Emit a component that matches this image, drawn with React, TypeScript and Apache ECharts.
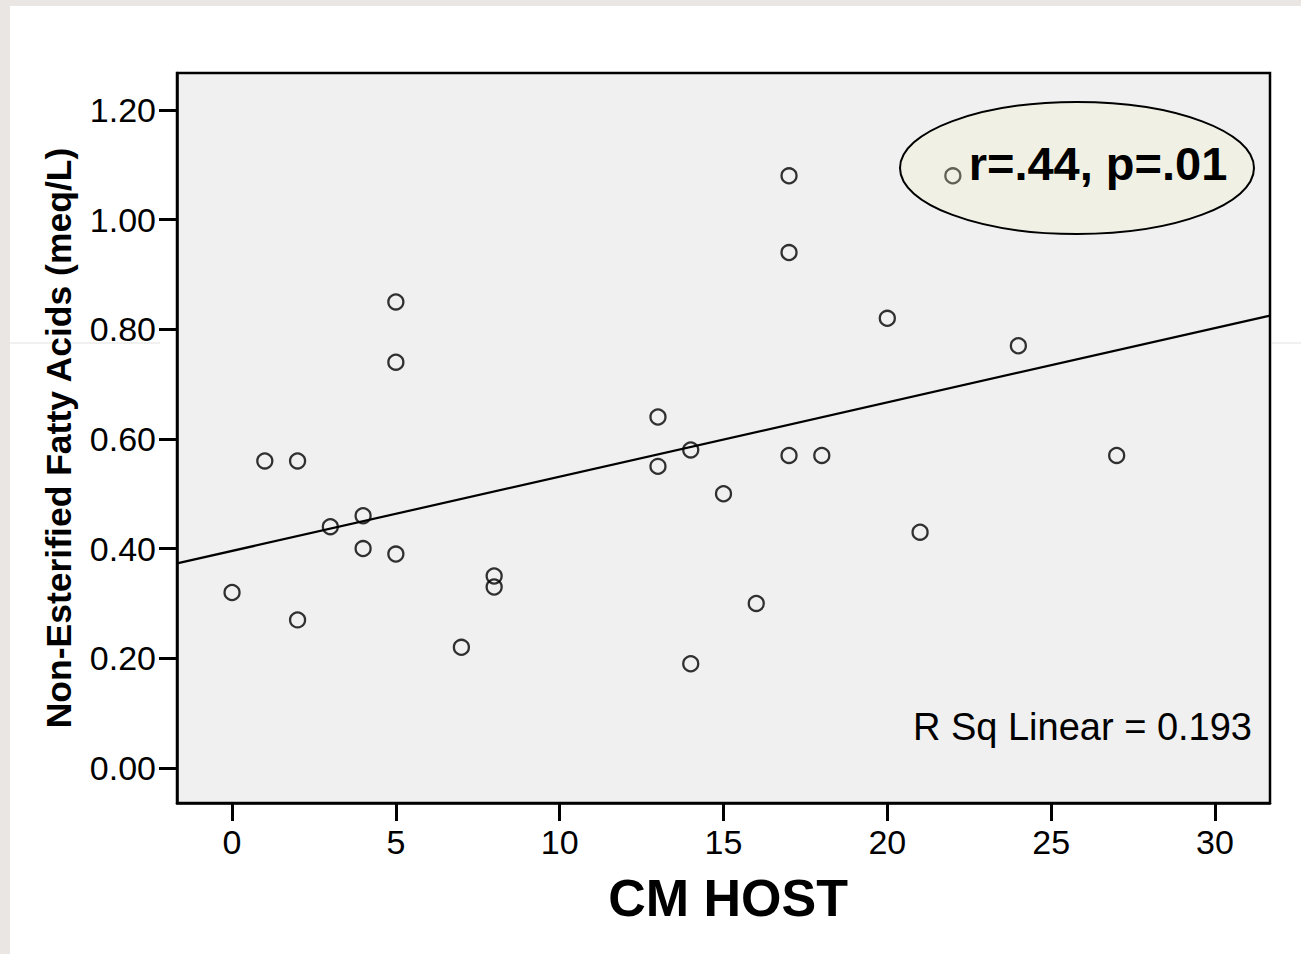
import React, { useEffect, useRef } from "react";
import * as echarts from "echarts";

// CM HOST score (x) and Non-Esterified Fatty Acids, meq/L (y)
const cmHost = [0, 1, 2, 2, 3, 4, 4, 5, 5, 5, 7, 8, 8, 13, 13, 14, 14, 15, 16, 17, 17, 17, 18, 20, 21, 22, 24, 27];
const nefa = [0.32, 0.56, 0.56, 0.27, 0.44, 0.46, 0.4, 0.85, 0.74, 0.39, 0.22, 0.35, 0.33, 0.64, 0.55, 0.58, 0.19, 0.5, 0.3, 1.08, 0.94, 0.57, 0.57, 0.82, 0.43, 1.08, 0.77, 0.57];

// Linear fit line endpoints
const fitX = [-1.68, 31.68];
const fitY = [0.373, 0.825];

const xTicks = [0, 5, 10, 15, 20, 25, 30];
const yTicks = [0, 0.2, 0.4, 0.6, 0.8, 1.0, 1.2];

const xName = "CM HOST";
const yName = "Non-Esterified Fatty Acids (meq/L)";
const statText = "r=.44, p=.01";
const rsqText = "R Sq Linear = 0.193";

const FONT = '"Liberation Sans", Arial, sans-serif';

export default function App() {
  const ref = useRef<HTMLDivElement>(null);

  useEffect(() => {
    if (!ref.current) return;
    const chart = echarts.init(ref.current, null, { renderer: "svg" });
    const option: any = {
      animation: false,
      backgroundColor: "#ffffff",
      textStyle: { fontFamily: FONT },
      grid: {
        show: true,
        left: 167,
        top: 67,
        right: 31,
        bottom: 151,
        backgroundColor: "#f0f0f0",
        borderColor: "#000000",
        borderWidth: 2.5,
      },
      xAxis: {
        type: "value",
        min: -1.68,
        max: 31.68,
        splitLine: { show: false },
        axisLine: { show: true, onZero: false, lineStyle: { color: "#000", width: 2.5 } },
        axisTick: {
          show: true,
          customValues: xTicks,
          length: 18,
          lineStyle: { color: "#000", width: 3 },
        },
        axisLabel: {
          customValues: xTicks,
          margin: 22,
          fontSize: 34,
          color: "#000",
          fontFamily: FONT,
        },
        name: xName,
        nameLocation: "middle",
        nameGap: 94.5,
        nameTextStyle: {
          fontSize: 52,
          fontWeight: "bold",
          color: "#000",
          fontFamily: FONT,
          verticalAlign: "middle",
          padding: [0, 0, 0, 9],
        },
      },
      yAxis: {
        type: "value",
        min: -0.064,
        max: 1.2675,
        splitLine: { show: false },
        axisLine: { show: true, onZero: false, lineStyle: { color: "#000", width: 2.5 } },
        axisTick: {
          show: true,
          customValues: yTicks,
          length: 18,
          lineStyle: { color: "#000", width: 3 },
        },
        axisLabel: {
          customValues: yTicks,
          margin: 21,
          fontSize: 34,
          color: "#000",
          fontFamily: FONT,
          formatter: (v: number) => v.toFixed(2),
        },
        name: yName,
        nameLocation: "middle",
        nameGap: 118,
        nameTextStyle: {
          fontSize: 35.5,
          fontWeight: "bold",
          color: "#000",
          fontFamily: FONT,
          verticalAlign: "middle",
        },
      },
      series: [
        {
          type: "line",
          data: fitX.map((x, i) => [x, fitY[i]]),
          showSymbol: false,
          symbol: "none",
          lineStyle: { color: "#000", width: 2.2 },
          z: 2,
          silent: true,
        },
        {
          type: "scatter",
          data: cmHost.map((x, i) => [x, nefa[i]]),
          symbol: "circle",
          symbolSize: 15,
          itemStyle: { color: "rgba(0,0,0,0)", borderColor: "#000", borderWidth: 2.3 },
          z: 3,
        },
      ],
      graphic: [
        {
          type: "line",
          shape: { x1: 0, y1: 337, x2: 150, y2: 337 },
          style: { stroke: "#e2e2e2", lineWidth: 1 },
          z: 0,
        },
        {
          type: "line",
          shape: { x1: 1262, y1: 337, x2: 1291, y2: 337 },
          style: { stroke: "#e2e2e2", lineWidth: 1 },
          z: 0,
        },
        {
          type: "ellipse",
          shape: { cx: 1067, cy: 162, rx: 177, ry: 66 },
          style: { fill: "rgba(240,240,192,0.25)", stroke: "#000", lineWidth: 2 },
          z: 100,
        },
        {
          type: "text",
          x: 1088,
          y: 157,
          style: {
            text: statText,
            fill: "#000",
            fontSize: 47,
            fontWeight: "bold",
            fontFamily: FONT,
            textAlign: "center",
            textVerticalAlign: "middle",
          },
          z: 101,
        },
        {
          type: "text",
          x: 1242,
          y: 720.5,
          style: {
            text: rsqText,
            fill: "#000",
            fontSize: 38,
            fontFamily: FONT,
            textAlign: "right",
            textVerticalAlign: "middle",
          },
          z: 101,
        },
      ],
    };
    chart.setOption(option);
    return () => chart.dispose();
  }, []);

  return (
    <div
      style={{
        position: "fixed",
        left: 0,
        top: 0,
        width: 1301,
        height: 954,
        background: "#e9e6e3",
        overflow: "hidden",
      }}
    >
      <div
        ref={ref}
        style={{
          position: "absolute",
          left: 10,
          top: 6,
          width: 1291,
          height: 948,
          background: "#ffffff",
        }}
      />
    </div>
  );
}
